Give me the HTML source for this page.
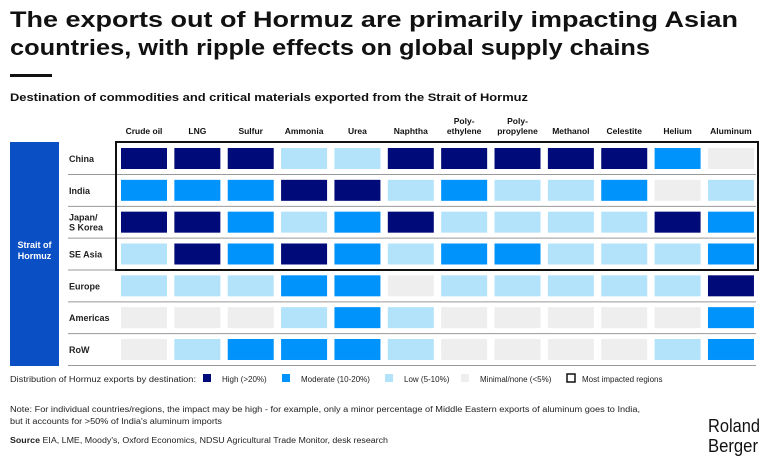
<!DOCTYPE html>
<html><head><meta charset="utf-8"><style>
body{margin:0;background:#fff;width:768px;height:460px;overflow:hidden;font-family:"Liberation Sans",sans-serif}
svg{display:block}
</style></head><body>
<svg id="c" width="768" height="460">
<text x="10" y="27" font-size="22" font-weight="bold" fill="#111" textLength="728" lengthAdjust="spacingAndGlyphs">The exports out of Hormuz are primarily impacting Asian</text>
<text x="10" y="55" font-size="22" font-weight="bold" fill="#111" textLength="640" lengthAdjust="spacingAndGlyphs">countries, with ripple effects on global supply chains</text>
<rect x="10" y="74" width="42" height="3" fill="#111"/>
<text x="10" y="101" font-size="11" font-weight="bold" fill="#111" textLength="518" lengthAdjust="spacingAndGlyphs">Destination of commodities and critical materials exported from the Strait of Hormuz</text>
<rect x="10" y="142" width="49" height="224" fill="#0b4fc4"/>
<text x="34.5" y="248" font-size="9" font-weight="bold" fill="#fff" text-anchor="middle"><tspan x="34.5">Strait of</tspan><tspan x="34.5" dy="11">Hormuz</tspan></text>
<g id="grid"></g>
<rect x="116" y="142" width="642" height="128" fill="none" stroke="#111" stroke-width="2"/>
<g id="legend" font-size="8" fill="#222"></g>
<text x="10" y="412" font-size="8" fill="#222" textLength="630" lengthAdjust="spacingAndGlyphs">Note: For individual countries/regions, the impact may be high - for example, only a minor percentage of Middle Eastern exports of aluminum goes to India,</text>
<text x="10" y="424" font-size="8" fill="#222" textLength="212" lengthAdjust="spacingAndGlyphs">but it accounts for &gt;50% of India's aluminum imports</text>
<text x="10" y="443" font-size="8" fill="#222" textLength="378" lengthAdjust="spacingAndGlyphs"><tspan font-weight="bold">Source</tspan> EIA, LME, Moody's, Oxford Economics, NDSU Agricultural Trade Monitor, desk research</text>
<text x="708" y="432" font-size="18" fill="#111" textLength="52" lengthAdjust="spacingAndGlyphs">Roland</text>
<text x="708" y="452" font-size="18" fill="#111" textLength="50" lengthAdjust="spacingAndGlyphs">Berger</text>
</svg>
<script>
const commodities=["Crude oil","LNG","Sulfur","Ammonia","Urea","Naphtha","Poly-|ethylene","Poly-|propylene","Methanol","Celestite","Helium","Aluminum"];
const regions=["China","India","Japan/|S Korea","SE Asia","Europe","Americas","RoW"];
const levels=[
[3,3,3,1,1,3,3,3,3,3,2,0],
[2,2,2,3,3,1,2,1,1,2,0,1],
[3,3,2,1,2,3,1,1,1,1,3,2],
[1,3,2,3,2,1,2,2,1,1,1,2],
[1,1,1,2,2,0,1,1,1,1,1,3],
[0,0,0,1,2,1,0,0,0,0,0,2],
[0,1,2,2,2,1,0,0,0,0,1,2]];
const levelLabels=["Minimal/none (<5%)","Low (5-10%)","Moderate (10-20%)","High (>20%)"];
const colors=["#eeeeee","#b3e3fb","#0093fb","#000a78"];
const NS="http://www.w3.org/2000/svg";
const g=document.getElementById('grid');
const x0=121,pitchX=53.36,cw=46,y0=148,pitchY=31.83,ch=21;
function xs(i){return x0+i*pitchX}
function ys(j){return y0+j*pitchY}
function mk(t,a,p){const e=document.createElementNS(NS,t);for(const k in a)e.setAttribute(k,a[k]);(p||g).appendChild(e);return e}
commodities.forEach((c,i)=>{
 const parts=c.split('|');
 parts.forEach((p,k)=>{
  const t=mk('text',{x:xs(i)+cw/2,y:134-(parts.length-1-k)*10,'font-size':8.5,'font-weight':'bold','text-anchor':'middle',fill:'#111'});
  t.textContent=p;
  
  
 });
});
regions.forEach((r,j)=>{
 const parts=r.split('|');
 parts.forEach((p,k)=>{
  const t=mk('text',{x:69,y:ys(j)+ch/2+3.5-(parts.length-1)*5+k*10,'font-size':9,'font-weight':'bold',fill:'#222'});
  t.textContent=p;
  
  
 });
 const l=mk('line',{x1:68,x2:756,y1:ys(j)+ch+5.5,y2:ys(j)+ch+5.5,stroke:'#999','stroke-width':1});
 
 
 levels[j].forEach((v,i)=>{
  const rc=mk('rect',{x:xs(i),y:ys(j),width:cw,height:ch,fill:colors[v]});
  
  
 });
});
const lg=document.getElementById('legend');
const t0=mk('text',{x:10,y:382,textLength:186,lengthAdjust:'spacingAndGlyphs'},lg);t0.textContent="Distribution of Hormuz exports by destination:";


const lx=[203,282,385,461],order=[3,2,1,0];
order.forEach((lv,k)=>{
 const r=mk('rect',{x:lx[k],y:374,width:8,height:8,fill:colors[lv]},lg);
 
 
 const t=mk('text',{x:lx[k]+19,y:382},lg);t.textContent=levelLabels[lv];
 
 
});
const bx=mk('rect',{x:567,y:374,width:8,height:8,fill:'none',stroke:'#111','stroke-width':1.5},lg);


const bt=mk('text',{x:582,y:382},lg);bt.textContent="Most impacted regions";


</script>
</body></html>
